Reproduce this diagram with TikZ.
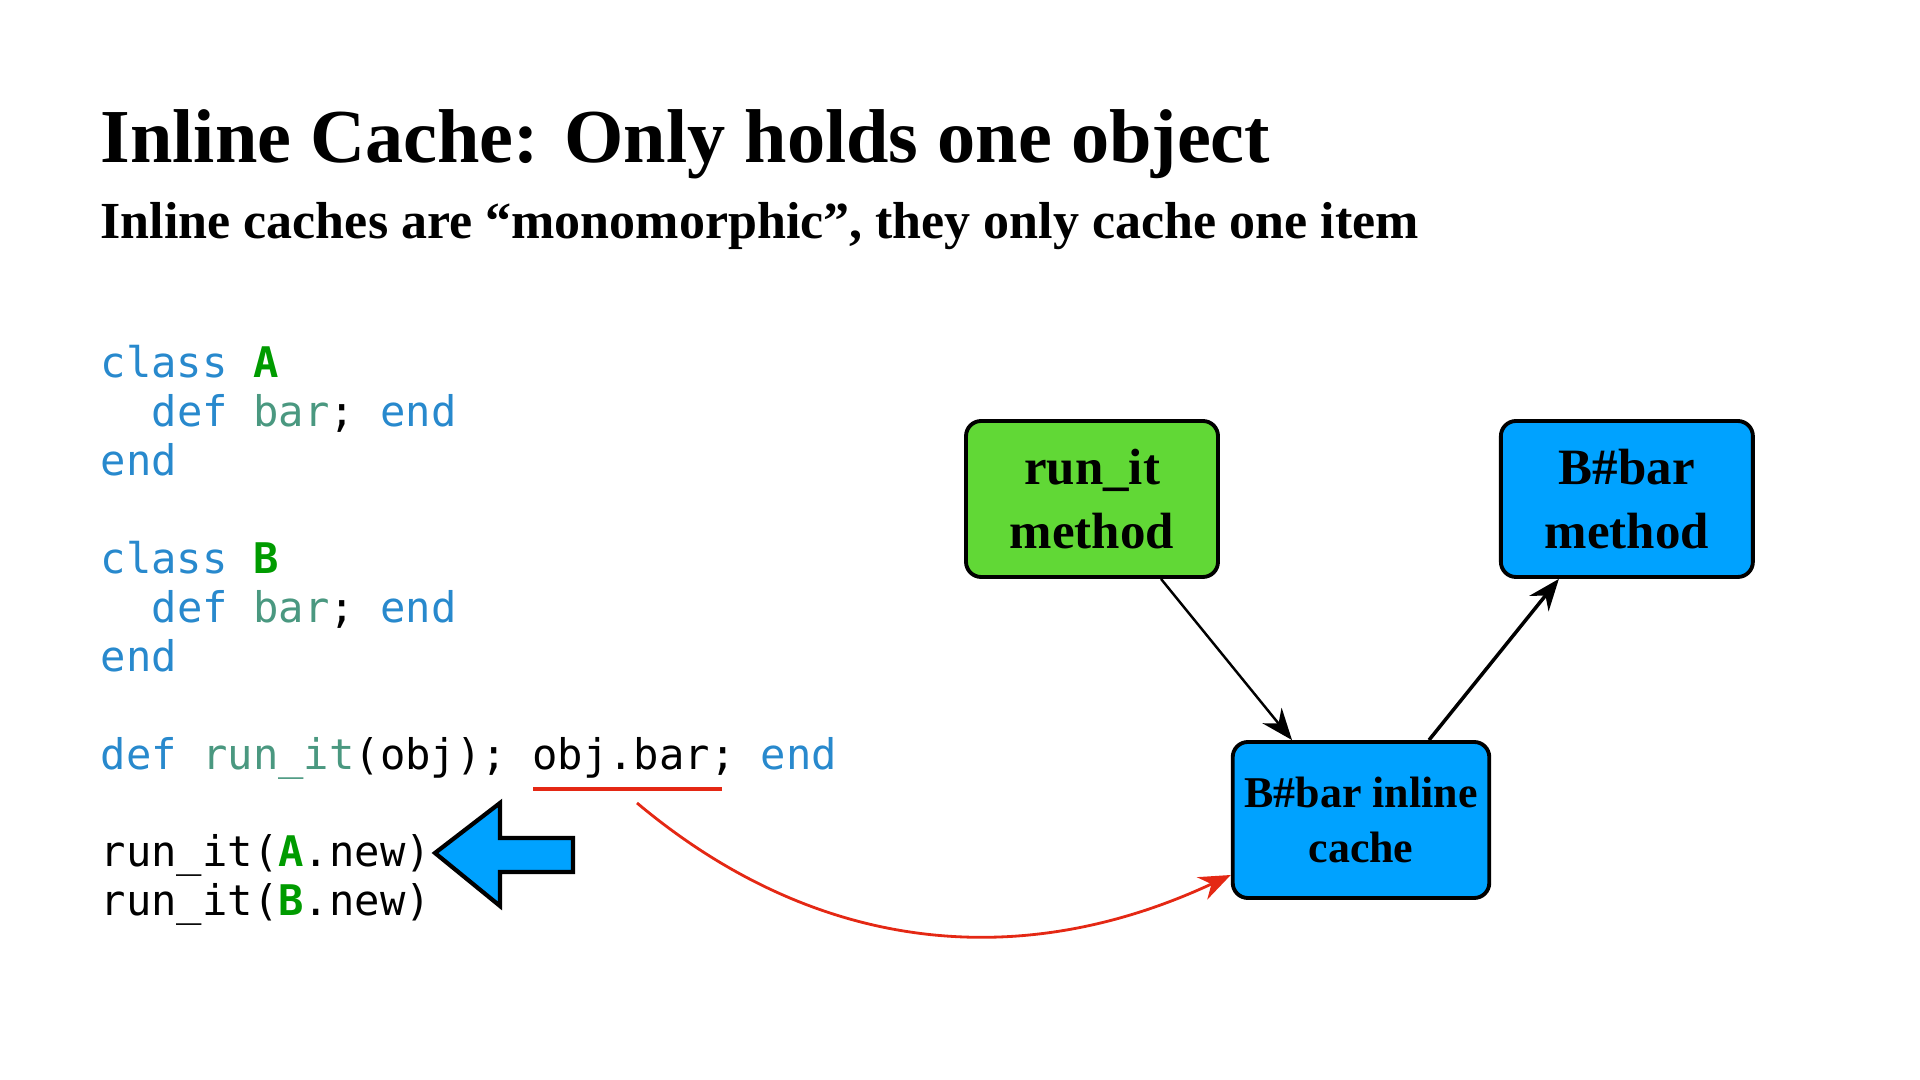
\documentclass[tikz,border=0pt]{standalone}
\usepackage{fontspec}
\setmainfont{Liberation Serif}
\setmonofont{DejaVu Sans Mono}
\usepackage{tikz}
\usetikzlibrary{positioning,arrows.meta}

\definecolor{boxgreen}{RGB}{97,216,54}
\definecolor{boxblue}{RGB}{0,162,255}
\definecolor{kwblue}{RGB}{40,137,205}
\definecolor{mthteal}{RGB}{74,152,128}
\definecolor{cstgreen}{RGB}{0,155,0}
\definecolor{markred}{RGB}{228,40,20}

\newcommand{\kw}[1]{\textcolor{kwblue}{#1}}
\newcommand{\mth}[1]{\textcolor{mthteal}{#1}}
\newcommand{\cst}[1]{\textcolor{cstgreen}{\bfseries #1}}

\begin{document}
\begin{tikzpicture}[
  codeline/.style={anchor=base west, inner sep=0pt, font=\ttfamily\fontsize{12}{14}\selectfont},
  methodbox/.style={draw, line width=1.1pt, rounded corners=4.3pt, minimum width=2.52cm, minimum height=1.56cm, align=center, font=\bfseries\fontsize{14.5}{18}\selectfont},
  blockarrow/.style={draw, fill=boxblue, line width=1.2pt, line join=miter}]
\useasboundingbox (0,0) rectangle (19.2,10.8);

% heading
\node[anchor=base west, inner sep=0pt, font=\bfseries\fontsize{21.7}{26}\selectfont] (title) at (1.00,9.17) {Inline Cache: Only holds one object};
\node[anchor=base west, inner sep=0pt, font=\bfseries\fontsize{14.8}{18}\selectfont] (subtitle) at (1.00,8.41) {Inline caches are “monomorphic”, they only cache one item};

% code listing
\node[codeline] (l1) at (1.00,7.02) {\kw{class} \cst{A}};
\node[codeline] (l2) at (1.51,6.53) {\kw{def} \mth{bar}; \kw{end}};
\node[codeline] (l3) at (1.00,6.04) {\kw{end}};
\node[codeline] (l4) at (1.00,5.06) {\kw{class} \cst{B}};
\node[codeline] (l5) at (1.51,4.57) {\kw{def} \mth{bar}; \kw{end}};
\node[codeline] (l6) at (1.00,4.08) {\kw{end}};
\node[codeline] (l7) at (1.00,3.10) {\kw{def} \mth{run\_it}(obj); obj.bar; \kw{end}};
\node[codeline] (l8) at (1.00,2.13) {run\_it(\cst{A}.new)};
\node[codeline] (l9) at (1.00,1.64) {run\_it(\cst{B}.new)};

% call site mark
\coordinate (ulL) at (5.33,2.91);
\coordinate (ulR) at (7.22,2.91);
\coordinate (callsite) at (6.37,2.77);
\draw[markred, line width=1pt] (ulL) -- (ulR);

% pointer to the current call
\draw[blockarrow] (4.35,2.27) -- (5.00,2.77) -- (5.00,2.42) -- (5.73,2.42) -- (5.73,2.08) -- (5.00,2.08) -- (5.00,1.74) -- cycle;

% methods and cache
\node[methodbox, fill=boxgreen] (runit) at (10.92,5.81) {run\_it\\method};
\node[methodbox, fill=boxblue, right=2.79cm of runit] (bbar) {B\#bar\\method};
\node[methodbox, fill=boxblue, minimum width=2.54cm, font=\bfseries\fontsize{12.5}{15.7}\selectfont] (cache) at (13.61,2.60) {B\#bar inline\\cache};

\draw[-{Stealth[length=9pt, width=7pt]}, line width=0.7pt] ([xshift=0.69cm]runit.south) -- ([xshift=-0.69cm]cache.north);
\draw[-{Stealth[length=9pt, width=7pt]}, line width=1pt] ([xshift=0.68cm]cache.north) -- ([xshift=-0.68cm]bbar.south);
\draw[-{Stealth[length=9pt, width=7pt]}, markred, line width=0.8pt] (callsite) to[out=-40, in=205] ([yshift=-0.55cm]cache.west);
\end{tikzpicture}
\end{document}
